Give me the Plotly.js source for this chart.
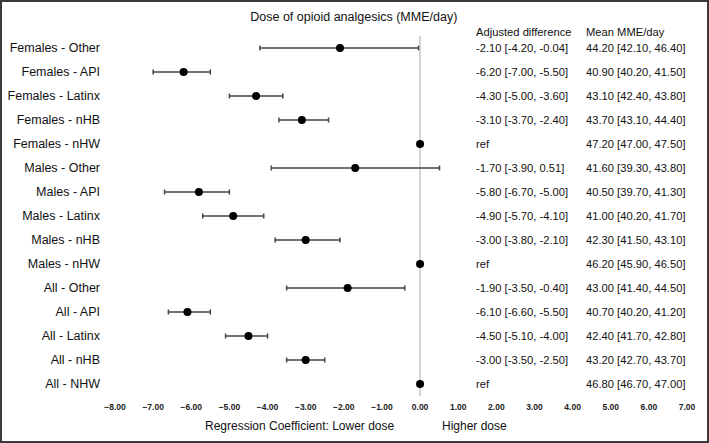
<!DOCTYPE html>
<html>
<head>
<meta charset="utf-8">
<script src="https://cdn.plot.ly/plotly-3.0.1.min.js"></script>
<style>
  html, body { margin: 0; padding: 0; background: #fff; }
  #wrap { position: relative; width: 709px; height: 443px; }
  #chart { width: 709px; height: 443px; }
  #frame { position: absolute; left: 0; top: 0; width: 709px; height: 443px; box-sizing: border-box;
           border: 2px solid #3a3a3a; pointer-events: none; }
</style>
</head>
<body>
<div id="wrap"><div id="chart"></div><div id="frame"></div></div>
<script>
const labels = ['Females - Other','Females - API','Females - Latinx','Females - nHB','Females - nHW',
                'Males - Other','Males - API','Males - Latinx','Males - nHB','Males - nHW',
                'All - Other','All - API','All - Latinx','All - nHB','All - NHW'];
const isRef  = [false,false,false,false,true, false,false,false,false,true, false,false,false,false,true];
const est    = [-2.10,-6.20,-4.30,-3.10,0, -1.70,-5.80,-4.90,-3.00,0, -1.90,-6.10,-4.50,-3.00,0];
const estLo  = [-4.20,-7.00,-5.00,-3.70,0, -3.90,-6.70,-5.70,-3.80,0, -3.50,-6.60,-5.10,-3.50,0];
const estHi  = [-0.04,-5.50,-3.60,-2.40,0,  0.51,-5.00,-4.10,-2.10,0, -0.40,-5.50,-4.00,-2.50,0];
const meanV  = [44.20,40.90,43.10,43.70,47.20, 41.60,40.50,41.00,42.30,46.20, 43.00,40.70,42.40,43.20,46.80];
const meanLo = [42.10,40.20,42.40,43.10,47.00, 39.30,39.70,40.20,41.50,45.90, 41.40,40.20,41.70,42.70,46.70];
const meanHi = [46.40,41.50,43.80,44.40,47.50, 43.80,41.30,41.70,43.10,46.50, 44.50,41.20,42.80,43.70,47.00];
const xTicks = [-8,-7,-6,-5,-4,-3,-2,-1,0,1,2,3,4,5,6,7];

const rows = labels.map((_, i) => i);
const f = v => v.toFixed(2);
const adjText = est.map((v, i) => isRef[i] ? 'ref' : f(v) + ' [' + f(estLo[i]) + ', ' + f(estHi[i]) + ']');
const meanText = meanV.map((v, i) => f(v) + ' [' + f(meanLo[i]) + ', ' + f(meanHi[i]) + ']');

const trace = {
  type: 'scatter', mode: 'markers',
  x: est, y: rows,
  marker: { color: '#000', size: 8 },
  error_x: {
    type: 'data', symmetric: false,
    array: est.map((v, i) => estHi[i] - v),
    arrayminus: est.map((v, i) => v - estLo[i]),
    color: '#444', thickness: 1.5, width: 2.5
  },
  hoverinfo: 'skip', showlegend: false
};

const txtFont = { family: 'Liberation Sans, Arial, sans-serif', size: 11.2, color: '#111' };
const annotations = [];
const colAdjX = 0.627, colMeanX = 0.820;
rows.forEach(i => {
  annotations.push({ xref: 'paper', yref: 'y', x: colAdjX, y: i, text: adjText[i], showarrow: false, xanchor: 'left', font: txtFont });
  annotations.push({ xref: 'paper', yref: 'y', x: colMeanX, y: i, text: meanText[i], showarrow: false, xanchor: 'left', font: txtFont });
});
annotations.push({ xref: 'paper', yref: 'paper', x: colAdjX, y: 1.011, text: 'Adjusted difference', showarrow: false, xanchor: 'left', yanchor: 'middle', font: txtFont });
annotations.push({ xref: 'paper', yref: 'paper', x: colMeanX, y: 1.011, text: 'Mean MME/day', showarrow: false, xanchor: 'left', yanchor: 'middle', font: txtFont });
const axFont = { family: 'Liberation Sans, Arial, sans-serif', size: 12, color: '#111' };
annotations.push({ xref: 'paper', yref: 'paper', x: 0.323, y: -0.083, text: 'Regression Coefficient: Lower dose', showarrow: false, xanchor: 'center', yanchor: 'middle', font: axFont });
annotations.push({ xref: 'paper', yref: 'paper', x: 0.628, y: -0.083, text: 'Higher dose', showarrow: false, xanchor: 'center', yanchor: 'middle', font: axFont });

const layout = {
  width: 709, height: 443,
  margin: { l: 115, r: 21.5, t: 36, b: 47 },
  paper_bgcolor: '#fff', plot_bgcolor: '#fff',
  title: { text: 'Dose of opioid analgesics (MME/day)', x: 0.499, xanchor: 'center', y: 0.963, yanchor: 'middle',
           font: { family: 'Liberation Sans, Arial, sans-serif', size: 12.5, color: '#111' } },
  xaxis: {
    range: [-8, 7], tickvals: xTicks, tickformat: '.2f',
    showgrid: false, showline: false, ticks: '',
    ticklabelstandoff: 4,
    zeroline: true, zerolinecolor: '#d4d4d4', zerolinewidth: 2,
    tickfont: { family: 'Liberation Sans, Arial, sans-serif', size: 8.5, weight: 'bold', color: '#222' },
    fixedrange: true
  },
  yaxis: {
    range: [14.5, -0.5], tickvals: rows, ticktext: labels,
    showgrid: false, showline: false, zeroline: false, ticks: '',
    ticklabelstandoff: 14,
    tickfont: { family: 'Liberation Sans, Arial, sans-serif', size: 12.5, color: '#111' },
    fixedrange: true
  },
  annotations: annotations
};

Plotly.newPlot('chart', [trace], layout, { staticPlot: true, displayModeBar: false });
</script>
</body>
</html>
